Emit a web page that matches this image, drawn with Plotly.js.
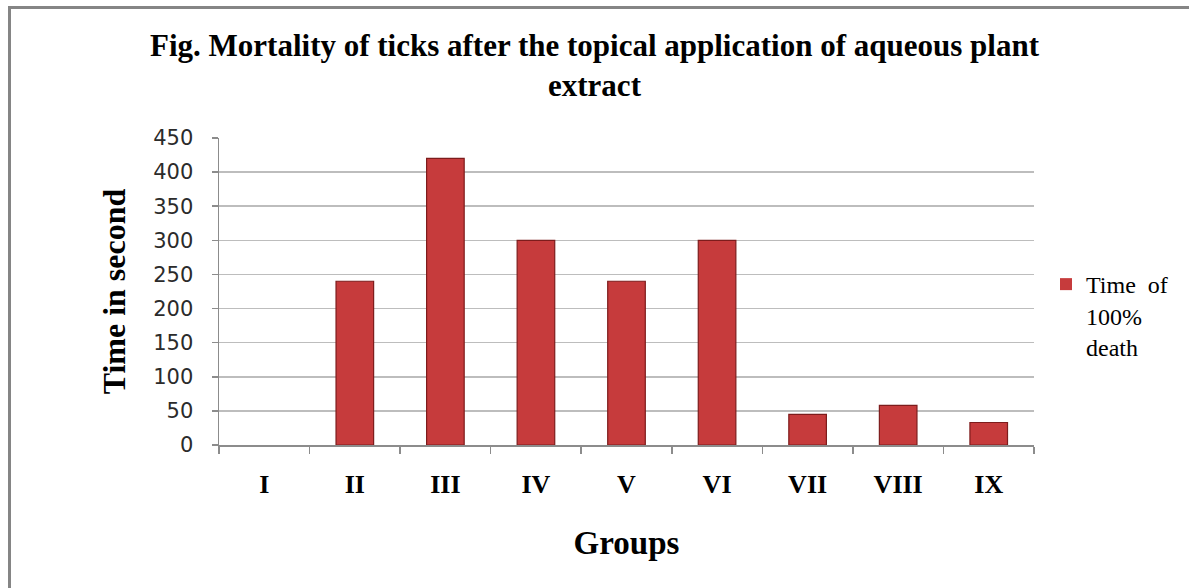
<!DOCTYPE html>
<html>
<head>
<meta charset="utf-8">
<script src="https://cdn.plot.ly/plotly-3.0.1.min.js"></script>
<style>
  html, body { margin: 0; padding: 0; background: #ffffff; overflow: hidden; }
  #wrap { position: relative; width: 1189px; height: 588px; }
  #chart { position: absolute; left: 0; top: 0; width: 1189px; height: 588px; }
  #frame { position: absolute; left: 8px; top: 6px; width: 1200px; height: 600px;
           border: 3px solid #858585; box-sizing: border-box; pointer-events: none; }
</style>
</head>
<body>
<div id="wrap">
  <div id="chart"></div>
  <div id="frame"></div>
</div>
<script>
const categories = ["I", "II", "III", "IV", "V", "VI", "VII", "VIII", "IX"];
const timeOf100Death = [0, 240, 420, 300, 240, 300, 45, 58, 33];
const seriesName = "Time&nbsp;&nbsp;of<br>100%<br>death";
const yTicks = [0, 50, 100, 150, 200, 250, 300, 350, 400, 450];

const serif = "'Liberation Serif', 'Times New Roman', serif";
const sans = "'DejaVu Sans', 'Liberation Sans', Arial, sans-serif";

const trace = {
  type: "bar",
  x: categories,
  y: timeOf100Death,
  name: seriesName,
  showlegend: true,
  marker: {
    color: "#c63b3c",
    line: { color: "#7d1c1c", width: timeOf100Death.map(v => v > 0 ? 1.2 : 0) }
  },
  hoverinfo: "x+y"
};

const layout = {
  width: 1189,
  height: 588,
  paper_bgcolor: "#ffffff",
  plot_bgcolor: "#ffffff",
  margin: { l: 219, r: 155, t: 138, b: 143 },
  bargap: 0.585,
  title: {
    text: "<b>Fig. Mortality of ticks after the topical application of aqueous plant<br>extract</b>",
    font: { family: serif, size: 31, color: "#000000" },
    x: 0.5, xref: "container", xanchor: "center",
    y: 1 - 56 / 588, yref: "container", yanchor: "top"
  },
  xaxis: {
    type: "category",
    tickson: "boundaries",
    ticks: "outside",
    ticklen: 7,
    tickcolor: "#8c8c8c",
    tickwidth: 1.5,
    showline: true,
    linecolor: "#8c8c8c",
    linewidth: 1.5,
    showgrid: false,
    tickfont: { family: serif, size: 26, color: "#000000", weight: "bold" },
    ticklabelstandoff: 15,
    title: {
      text: "<b>Groups</b>",
      font: { family: serif, size: 33, color: "#000000" },
      standoff: 33
    }
  },
  yaxis: {
    range: [0, 450],
    tickvals: yTicks,
    ticktext: yTicks.map(String),
    ticks: "outside",
    ticklen: 6,
    tickcolor: "#8c8c8c",
    tickwidth: 1.5,
    showline: true,
    linecolor: "#8c8c8c",
    linewidth: 1.5,
    showgrid: true,
    gridcolor: "#bdbdbd",
    gridwidth: 1.5,
    zeroline: false,
    tickfont: { family: sans, size: 21, color: "#2b2b2b" },
    ticklabelstandoff: 14,
    title: {
      text: "<b>Time in second</b>",
      font: { family: serif, size: 32, color: "#000000" },
      standoff: 18
    }
  },
  legend: {
    x: 1.0147, xanchor: "left",
    y: 0.596, yanchor: "top",
    valign: "top",
    font: { family: serif, size: 24, color: "#000000" },
    bgcolor: "rgba(0,0,0,0)",
    itemwidth: 30,
    tracegroupgap: 0
  },
  showlegend: true
};

Plotly.newPlot("chart", [trace], layout, { displayModeBar: false, staticPlot: true });
</script>
</body>
</html>
